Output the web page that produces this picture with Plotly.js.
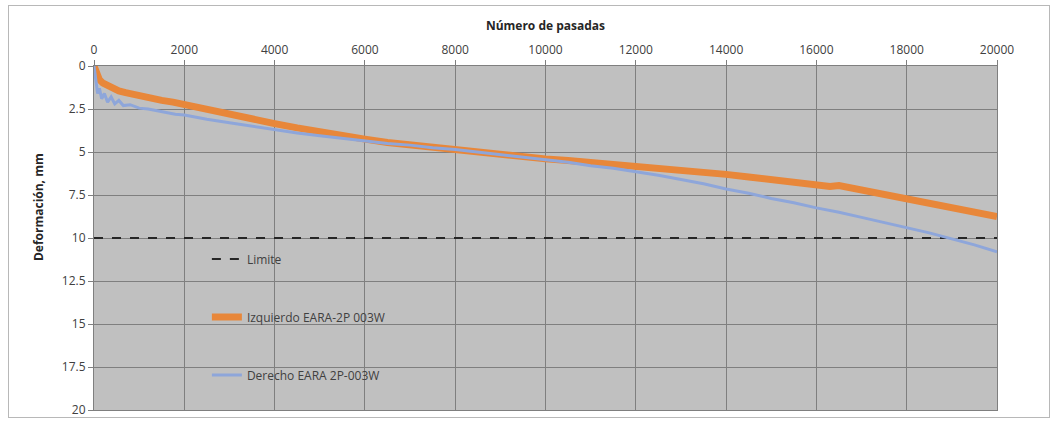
<!DOCTYPE html>
<html>
<head>
<meta charset="utf-8">
<script src="https://cdn.plot.ly/plotly-3.0.1.min.js"></script>
<style>
  html, body { margin: 0; padding: 0; background: #ffffff; }
  #frame { position: absolute; left: 8px; top: 5px; width: 1042px; height: 413px; border: 1px solid #b8b8b8; box-sizing: border-box; pointer-events: none; z-index: 2; }
  #chart { position: absolute; left: 0; top: 0; width: 1052px; height: 428px; }
</style>
</head>
<body>
<div id="chart"></div>
<div id="frame"></div>
<script>
// Number of passes (x) and rut depth in mm (y)
const passesIzq = [0, 60, 120, 200, 300, 400, 550, 700, 850, 1000, 1250, 1500, 1750, 2000, 2500, 3000, 3500, 4000, 4500, 5000, 5500, 6000, 6500, 7000, 7500, 8000, 8500, 9000, 9500, 10000, 10500, 11000, 11500, 12000, 12500, 13000, 13500, 14000, 14500, 15000, 15500, 16000, 16300, 16500, 16700, 17000, 17500, 18000, 18500, 19000, 19500, 20000];
const defIzq    = [0, 0.5, 0.8, 1.0, 1.15, 1.3, 1.45, 1.55, 1.65, 1.75, 1.9, 2.0, 2.1, 2.25, 2.55, 2.85, 3.1, 3.35, 3.6, 3.85, 4.05, 4.25, 4.45, 4.6, 4.75, 4.9, 5.0, 5.15, 5.25, 5.4, 5.5, 5.6, 5.75, 5.85, 5.95, 6.05, 6.15, 6.3, 6.45, 6.6, 6.75, 6.9, 7.0, 6.95, 7.05, 7.25, 7.5, 7.75, 8.0, 8.2, 8.45, 8.75];

const passesDer = [0, 40, 80, 120, 170, 230, 300, 380, 460, 550, 650, 800, 1000, 1200, 1400, 1600, 1800, 2000, 2500, 3000, 3500, 4000, 4500, 5000, 5500, 6000, 6500, 7000, 7500, 8000, 8500, 9000, 9500, 10000, 10500, 11000, 11500, 12000, 12500, 13000, 13500, 14000, 14500, 15000, 15500, 16000, 16500, 17000, 17500, 18000, 18500, 19000, 19500, 20000];
const defDer    = [0, 1.0, 1.6, 1.3, 1.9, 1.6, 2.1, 1.8, 2.2, 2.0, 2.3, 2.25, 2.45, 2.5, 2.6, 2.7, 2.8, 2.85, 3.1, 3.3, 3.5, 3.7, 3.9, 4.05, 4.2, 4.35, 4.5, 4.6, 4.75, 4.85, 5.0, 5.15, 5.3, 5.45, 5.6, 5.8, 5.95, 6.15, 6.35, 6.6, 6.85, 7.15, 7.4, 7.7, 7.95, 8.25, 8.5, 8.8, 9.1, 9.4, 9.7, 10.05, 10.4, 10.8];

const limitePasses = [0, 20000];
const limiteDef    = [10, 10];

const xTicks = [0, 2000, 4000, 6000, 8000, 10000, 12000, 14000, 16000, 18000, 20000];
const yTicks = [0, 2.5, 5, 7.5, 10, 12.5, 15, 17.5, 20];

const nameLimite = "Limite";
const nameIzq = "Izquierdo EARA-2P 003W";
const nameDer = "Derecho EARA 2P-003W";

const fontFam = "'Open Sans', 'Liberation Sans', sans-serif";

const traces = [
  {
    x: limitePasses, y: limiteDef, mode: "lines", name: nameLimite,
    line: { color: "#262626", width: 2, dash: "dash" },
    legendgroup: "a", legendrank: 1
  },
  {
    x: passesIzq, y: defIzq, mode: "lines", name: nameIzq,
    line: { color: "#E8873A", width: 7 },
    legendgroup: "b", legendrank: 2
  },
  {
    x: passesDer, y: defDer, mode: "lines", name: nameDer,
    line: { color: "#8EA6DA", width: 3 },
    legendgroup: "c", legendrank: 3
  }
];

const layout = {
  width: 1052, height: 428,
  margin: { l: 94, r: 55, t: 66, b: 18 },
  paper_bgcolor: "#ffffff",
  plot_bgcolor: "#C0C0C0",
  font: { family: fontFam, size: 12, color: "#404040" },
  showlegend: true,
  legend: {
    x: 0.125, y: 0.481, xanchor: "left", yanchor: "top",
    bgcolor: "rgba(0,0,0,0)",
    font: { family: fontFam, size: 12, color: "#404040" },
    tracegroupgap: 39,
    traceorder: "grouped"
  },
  xaxis: {
    side: "top",
    range: [0, 20000],
    tickvals: xTicks,
    ticktext: xTicks.map(String),
    showgrid: true, gridcolor: "#7F7F7F", gridwidth: 1,
    showline: true, linecolor: "#7F7F7F", mirror: true,
    ticks: "outside", ticklen: 5, tickcolor: "#7F7F7F",
    ticklabelstandoff: 1,
    zeroline: false,
    tickfont: { family: fontFam, size: 12, color: "#404040" },
    title: { text: "<b>Número de pasadas</b>", standoff: 8, font: { family: fontFam, size: 12, color: "#262626" } }
  },
  yaxis: {
    range: [20, 0],
    tickvals: yTicks,
    ticktext: yTicks.map(String),
    showgrid: true, gridcolor: "#7F7F7F", gridwidth: 1,
    showline: true, linecolor: "#7F7F7F", mirror: true,
    ticks: "outside", ticklen: 5, tickcolor: "#7F7F7F",
    zeroline: false,
    tickfont: { family: fontFam, size: 12, color: "#404040" }
  },
  annotations: [
    {
      text: "<b>Deformación, mm</b>", textangle: -90,
      xref: "paper", yref: "paper",
      x: -0.062, y: 0.59, xanchor: "center", yanchor: "middle",
      showarrow: false,
      font: { family: fontFam, size: 12, color: "#262626" }
    }
  ]
};

Plotly.newPlot("chart", traces, layout, { displayModeBar: false, staticPlot: true });
</script>
</body>
</html>
